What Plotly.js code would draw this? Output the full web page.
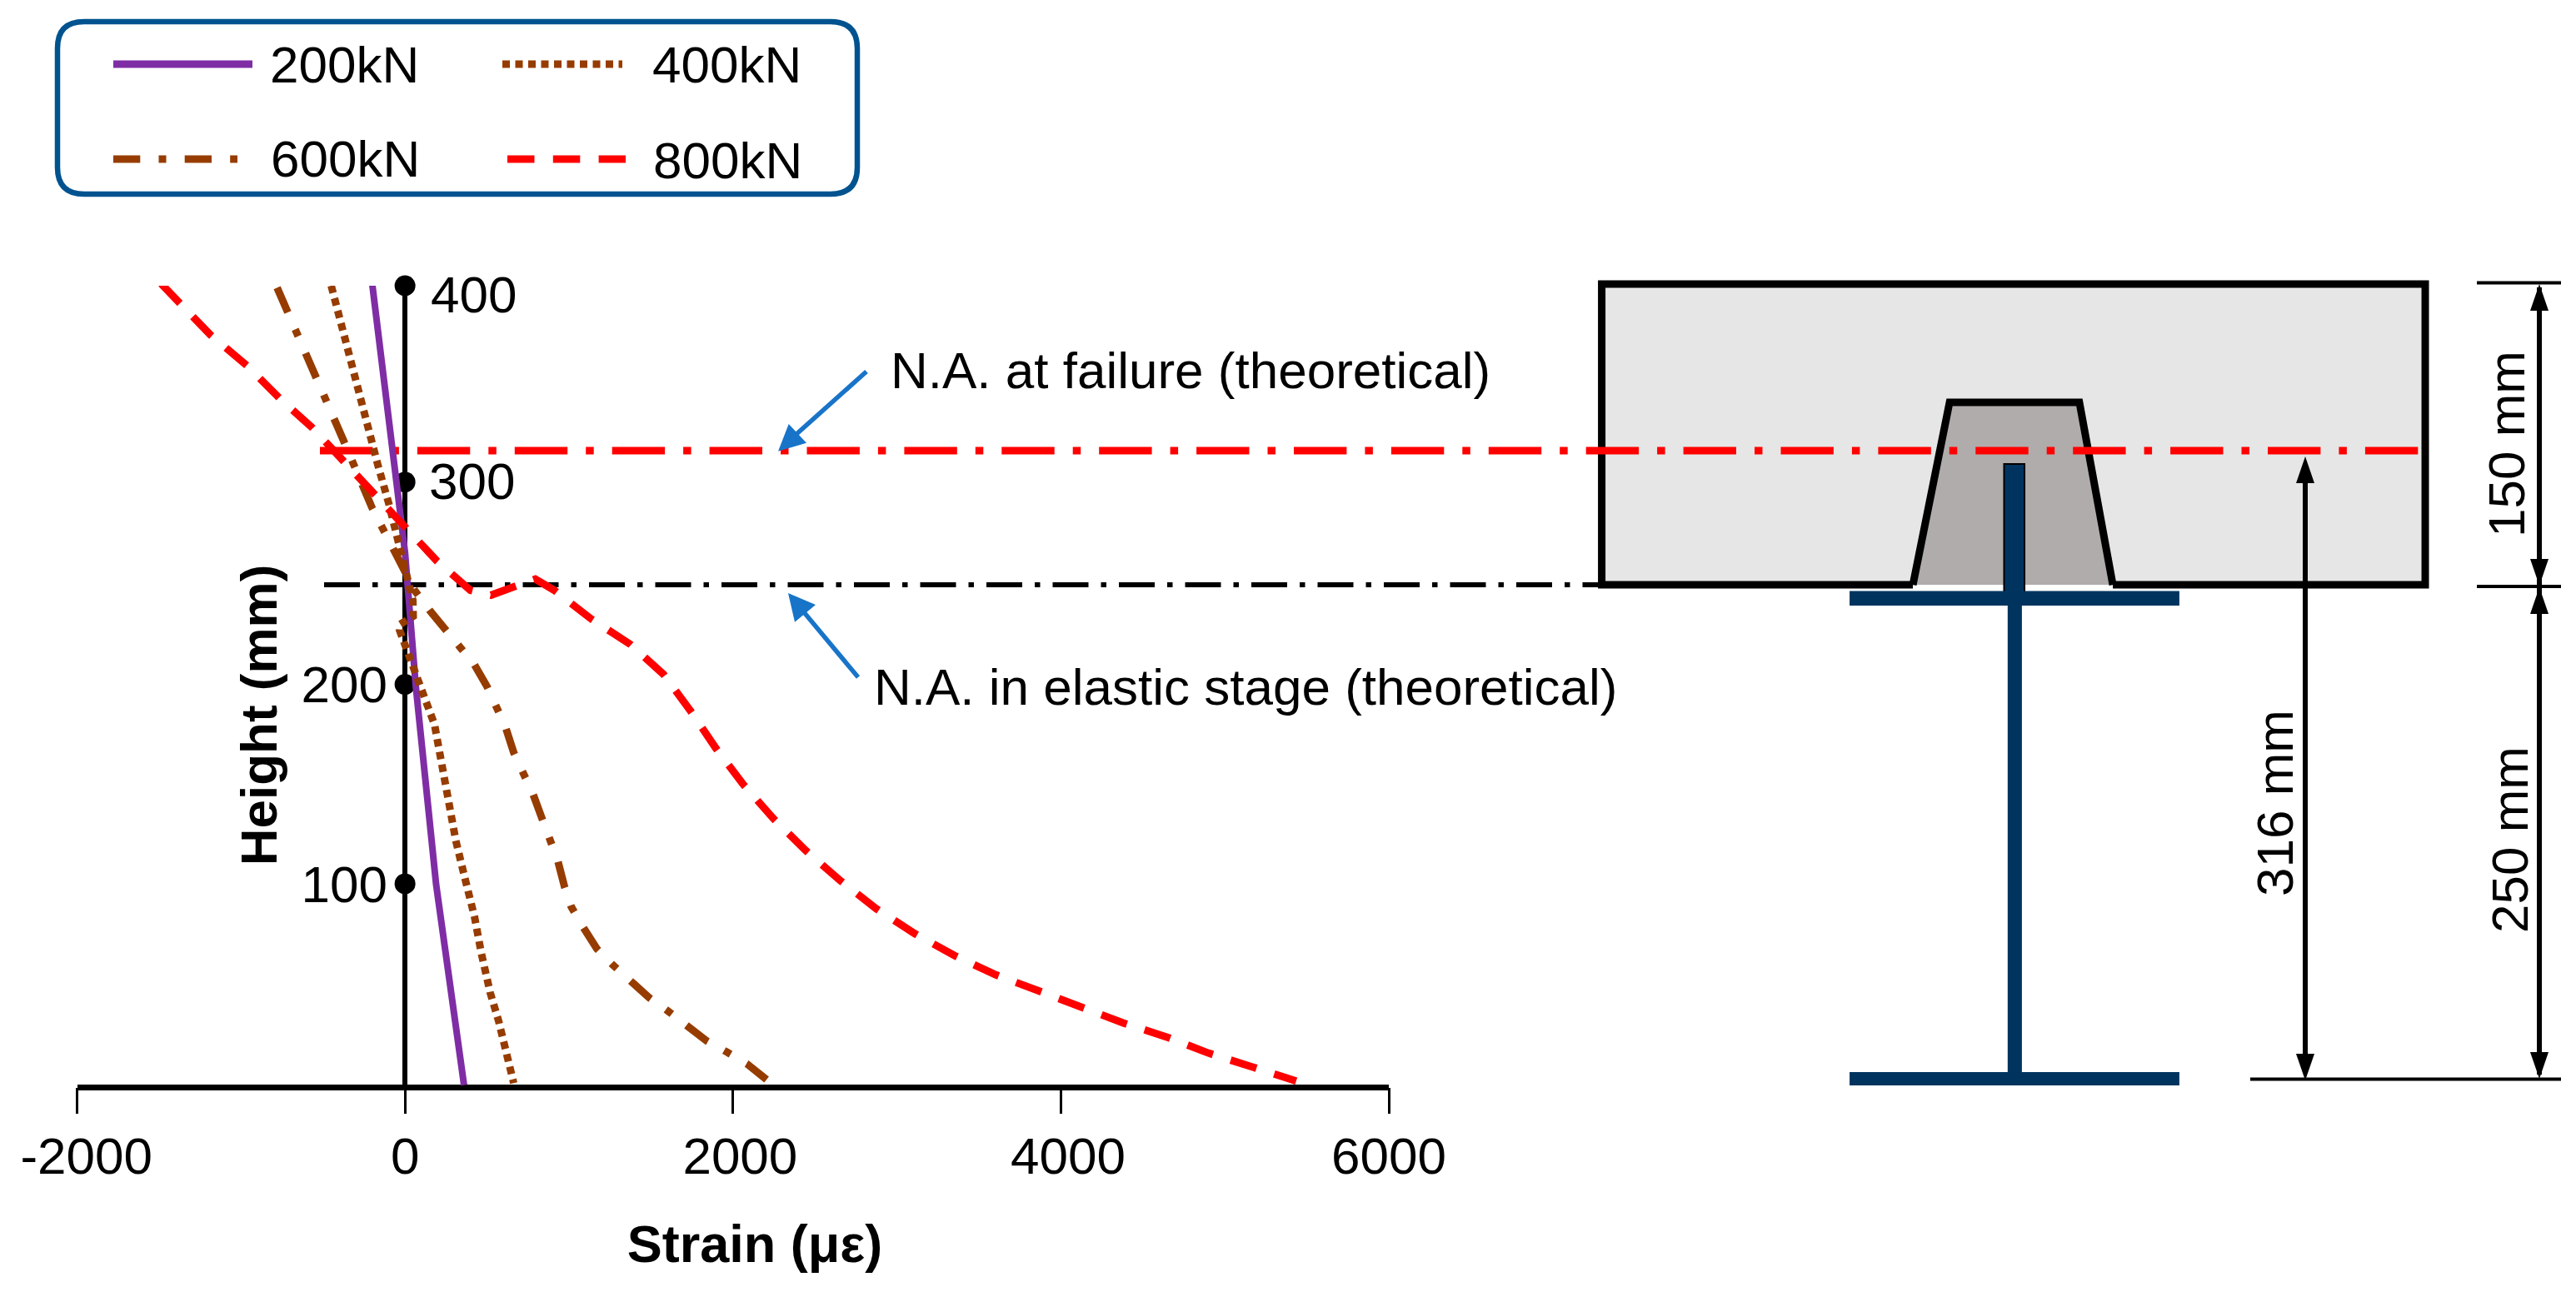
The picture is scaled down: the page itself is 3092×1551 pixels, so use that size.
<!DOCTYPE html>
<html><head><meta charset="utf-8">
<script src="https://cdn.plot.ly/plotly-3.0.1.min.js"></script>
<style>html,body{margin:0;padding:0;background:#fff}#c{width:3092px;height:1551px}</style>
</head><body><div id="c"></div><script>
// ---- chart data (Strain in microstrain, Height in mm) ----
const strain200 = [-200,-65,0,66,190,360];
const height200 = [401,314,267,200,101,1];
const strain400 = [-450,-348,-246,-167,-98,-43,13,48,50,-30,-33,18,100,180,209,264,310,360,424,465,520,571,622,663];
const height400 = [400,367,336,311,291,273,254,243,235,231,228,217,200,181,168,143,123,106,85,67,47,33,17,2];
const strain600 = [-780,-548,-371,-200,-7,58,150,248,422,500,612,663,782,836,932,973,1014,1085,1171,1267,1371,1491,1603,1717,1841,1963,2087,2205];
const height600 = [399,354,322,289,257,248,238,228,211,200,180,167,146,134,113,100,90,80,69,61,53,44.5,38,31,23,17.5,11.5,3.7];
const strain800 = [-1487,-1369,-1187,-962,-767,-564,-371,-190,0,196,399,524,673,795,910,1135,1374,1577,1742,1897,2064,2247,2445,2656,2875,3111,3350,3604,3865,4117,4380,4645,4899,5170,5435];
const height800 = [401,391,375.5,360,344,329,312,296,279,262.5,248,245.5,250,253.6,248,233.7,221,206,187.7,169,151,134,118,103,89,76.5,65.7,56,48,40,32,25,17,10,3];
const seriesNames = ['200kN','400kN','600kN','800kN'];
const seriesColors = ['#7F2DA5','#963C00','#963C00','#FF0000'];
const seriesDash = ['solid','9px,6.5px','32.3px,22.2px,9px,22.2px','32.5px,22.3px'];
const xTickVals = [-2000,0,2000,4000,6000];
const xTickText = ['\u200b\u00a0\u200a-2000','0','\u200b\u00a02000','\u200b\u00a04000','6000'];
const heightMarks = [101.5,201,302,400];
const heightMarkText = ['100','200','300','400'];

// ---- section sizes, mm ----
const naFailure = 317.7, naElastic = 250.7;
const slabTop = 400.8, slabBottom = 250.7, slabLeft = -206, slabRight = 205;
const ribFoot = [-50.7,49.1], ribTop = [-32.4,32.4], ribTopY = 341.8;
const flange = 82.3;

const W=3092,H=1551,K=2.405,CX=2418,BY=1305;
// page pixel -> section (mm) axes
const X=p=>(p-CX)/K, Y=p=>(BY-p)/K;
const FONT='"Liberation Sans", Arial, sans-serif';
const NAVY='#00345F', BLUE='#1874C8', FRAME='#00538F';

const traces=[];
// hidden carrier so the section axes exist first (drawn beneath chart)
traces.push({x:[X(0),X(W)],y:[Y(H),Y(0)],xaxis:'x',yaxis:'y',mode:'none',showlegend:false,hoverinfo:'skip'});
traces.push({x:heightMarks.map(()=>0),y:heightMarks,xaxis:'x2',yaxis:'y2',mode:'markers',cliponaxis:false,
  marker:{color:'#000',size:25},showlegend:false,hoverinfo:'skip'});
[[strain200,height200],[strain400,height400],[strain600,height600],[strain800,height800]].forEach((s,i)=>{
  traces.push({x:s[0],y:s[1],name:seriesNames[i],xaxis:'x2',yaxis:'y2',mode:'lines',cliponaxis:false,showlegend:false,
    line:{color:seriesColors[i],width:i==0?8:9,dash:seriesDash[i]}});
});

const rect=(x0,x1,y0,y1,fill,line,lw)=>({type:'rect',xref:'x',yref:'y',x0,x1,y0,y1,fillcolor:fill,layer:'below',
  line:{color:line||fill,width:line?lw:0}});
const seg=(x0,y0,x1,y1,color,width,dash,layer)=>({type:'line',xref:'x',yref:'y',x0,y0,x1,y1,layer:layer||'below',
  line:{color,width,dash:dash||'solid'}});
const path=(pts,close,fill,line,lw,layer)=>({type:'path',xref:'x',yref:'y',layer:layer||'below',
  path:'M'+pts.map(p=>p[0]+','+p[1]).join('L')+(close?'Z':''),fillcolor:fill||'rgba(0,0,0,0)',
  line:{color:line||'rgba(0,0,0,0)',width:line?lw:0}});
const tri=(a,b,c,col)=>path([a,b,c].map(p=>[X(p[0]),Y(p[1])]),true,col);

const shapes=[
  rect(slabLeft,slabRight,slabBottom,slabTop,'#E6E6E6'),
  path([[ribFoot[0],slabBottom],[ribTop[0],ribTopY],[ribTop[1],ribTopY],[ribFoot[1],slabBottom]],true,'#B0ACAB'),
  path([[ribFoot[0],slabBottom],[slabLeft,slabBottom],[slabLeft,slabTop],[slabRight,slabTop],[slabRight,slabBottom],[ribFoot[1],slabBottom]],false,null,'#000',9),
  path([[ribFoot[0],slabBottom],[ribTop[0],ribTopY],[ribTop[1],ribTopY],[ribFoot[1],slabBottom]],false,null,'#000',9),
  // steel section
  rect(-5.2,5,247,311,NAVY,'#000',2),
  rect(-flange,flange,240.3,247.6,NAVY),
  rect(-flange,flange,0.8,7.5,NAVY),
  rect(-3.4,3.7,7,241,NAVY),
  // neutral axes
  seg(X(389),naElastic,slabLeft,naElastic,'#000',6,'43px,15px,6.5px,15px'),
  seg(X(384),naFailure,X(2905),naFailure,'#FF0000',9,'63.4px,22px,9.5px,22px'),
  // dimension lines
  seg(X(2767),Y(575),X(2767),Y(1270),'#000',6),
  tri([2767,548],[2756,580],[2778,580],'#000'),
  tri([2767,1297],[2756,1265],[2778,1265],'#000'),
  seg(X(3048),Y(345),X(3048),Y(1290),'#000',6),
  tri([3048,341],[3037,373],[3059,373],'#000'),
  tri([3048,703],[3037,671],[3059,671],'#000'),
  tri([3048,705],[3037,737],[3059,737],'#000'),
  tri([3048,1295],[3037,1263],[3059,1263],'#000'),
  seg(X(2973),Y(339.5),X(3074),Y(339.5),'#000',4),
  seg(X(2973),Y(704),X(3074),Y(704),'#000',4),
  seg(X(2701),Y(1295.5),X(3074),Y(1295.5),'#000',4),
  // callout arrows
  seg(X(1040),Y(446),X(955),Y(522),BLUE,5.5,null,'above'),
  tri([934,541.7],[946.7,509],[968,531.7],BLUE),
  seg(X(1030),Y(813),X(965),Y(735),BLUE,5.5,null,'above'),
  tri([946,712],[979,726],[954,746.7],BLUE),
];
shapes[shapes.length-1].layer='above';shapes[shapes.length-3].layer='above';

// legend frame
(function(){
  const l=69,r=1029,t=26,b=233,q=32;
  const P=(x,y)=>X(x)+','+Y(y);
  shapes.push({type:'path',xref:'x',yref:'y',layer:'above',line:{color:FRAME,width:6.5},fillcolor:'rgba(0,0,0,0)',
    path:`M${P(l+q,t)}L${P(r-q,t)}Q${P(r,t)} ${P(r,t+q)}L${P(r,b-q)}Q${P(r,b)} ${P(r-q,b)}L${P(l+q,b)}Q${P(l,b)} ${P(l,b-q)}L${P(l,t+q)}Q${P(l,t)} ${P(l+q,t)}Z`});
})();
const legendPos=[[136,303,77,322,77],[603,747,77,781,77],[136,285,191,323,190],[609,751,191,782,192]];
const annotations=[];
const txt=(t,px,py,size,anchor,angle)=>annotations.push({text:t,xref:'x',yref:'y',x:X(px),y:Y(py),showarrow:false,
  xanchor:anchor||'center',yanchor:'middle',textangle:angle||0,font:{family:FONT,size:size||62,color:'#000'}});
legendPos.forEach((p,i)=>{
  shapes.push(seg(X(p[0]),Y(p[2]),X(p[1]),Y(p[2]),seriesColors[i],9,seriesDash[i],'above'));
  txt(seriesNames[i],p[3],p[4],62,'left');
});
txt('N.A. at failure (theoretical)',1067,444,62,'left');
txt('N.A. in elastic stage (theoretical)',1047,824,62,'left');
txt('150 mm',3008,533,62,'center',-90);
txt('250 mm',3012,1008,62,'center',-90);
txt('316 mm',2730,964,62,'center',-90);
txt(heightMarkText[2],513,577,62,'left');
txt(heightMarkText[3],515,353,62,'left');

const layout={
  width:W,height:H,margin:{l:0,r:0,t:0,b:0},paper_bgcolor:'#fff',plot_bgcolor:'rgba(0,0,0,0)',showlegend:false,
  font:{family:FONT,color:'#000',size:62},
  xaxis:{domain:[0,1],range:[X(0),X(W)],visible:false,fixedrange:true},
  yaxis:{domain:[0,1],range:[Y(H),Y(0)],visible:false,fixedrange:true},
  xaxis2:{domain:[92.5/W,1667/W],range:[-2000,6000],anchor:'y2',showline:false,
    zeroline:true,zerolinecolor:'#000',zerolinewidth:6,
    ticks:'outside',ticklen:31,tickwidth:3,tickcolor:'#000',tickmode:'array',tickvals:xTickVals,ticktext:xTickText,
    tickfont:{family:FONT,size:62,color:'#000'},ticklabelstandoff:-2,ticklabeloverflow:'allow',showgrid:false,automargin:false,
    title:{text:'\u200b\u00a0\u00a0\u00a0<b>Strain (με)</b>',font:{family:FONT,size:63,color:'#000'},standoff:49}},
  yaxis2:{domain:[(H-BY)/H,(H-343)/H],range:[0,400],anchor:'free',position:486/W,showline:false,
    zeroline:true,zerolinecolor:'#000',zerolinewidth:7,
    ticks:'',tickmode:'array',tickvals:heightMarks.slice(0,2),ticktext:heightMarkText.slice(0,2),tickfont:{family:FONT,size:62,color:'#000'},
    ticklabelstandoff:21,showgrid:false,automargin:false,
    title:{text:'<b>Height (mm)</b>\u00a0\u00a0\u00a0\u00a0\u200b',font:{family:FONT,size:62,color:'#000'},standoff:7}},
  shapes,annotations
};
Plotly.newPlot('c',traces,layout,{displayModeBar:false,staticPlot:true});
</script></body></html>
